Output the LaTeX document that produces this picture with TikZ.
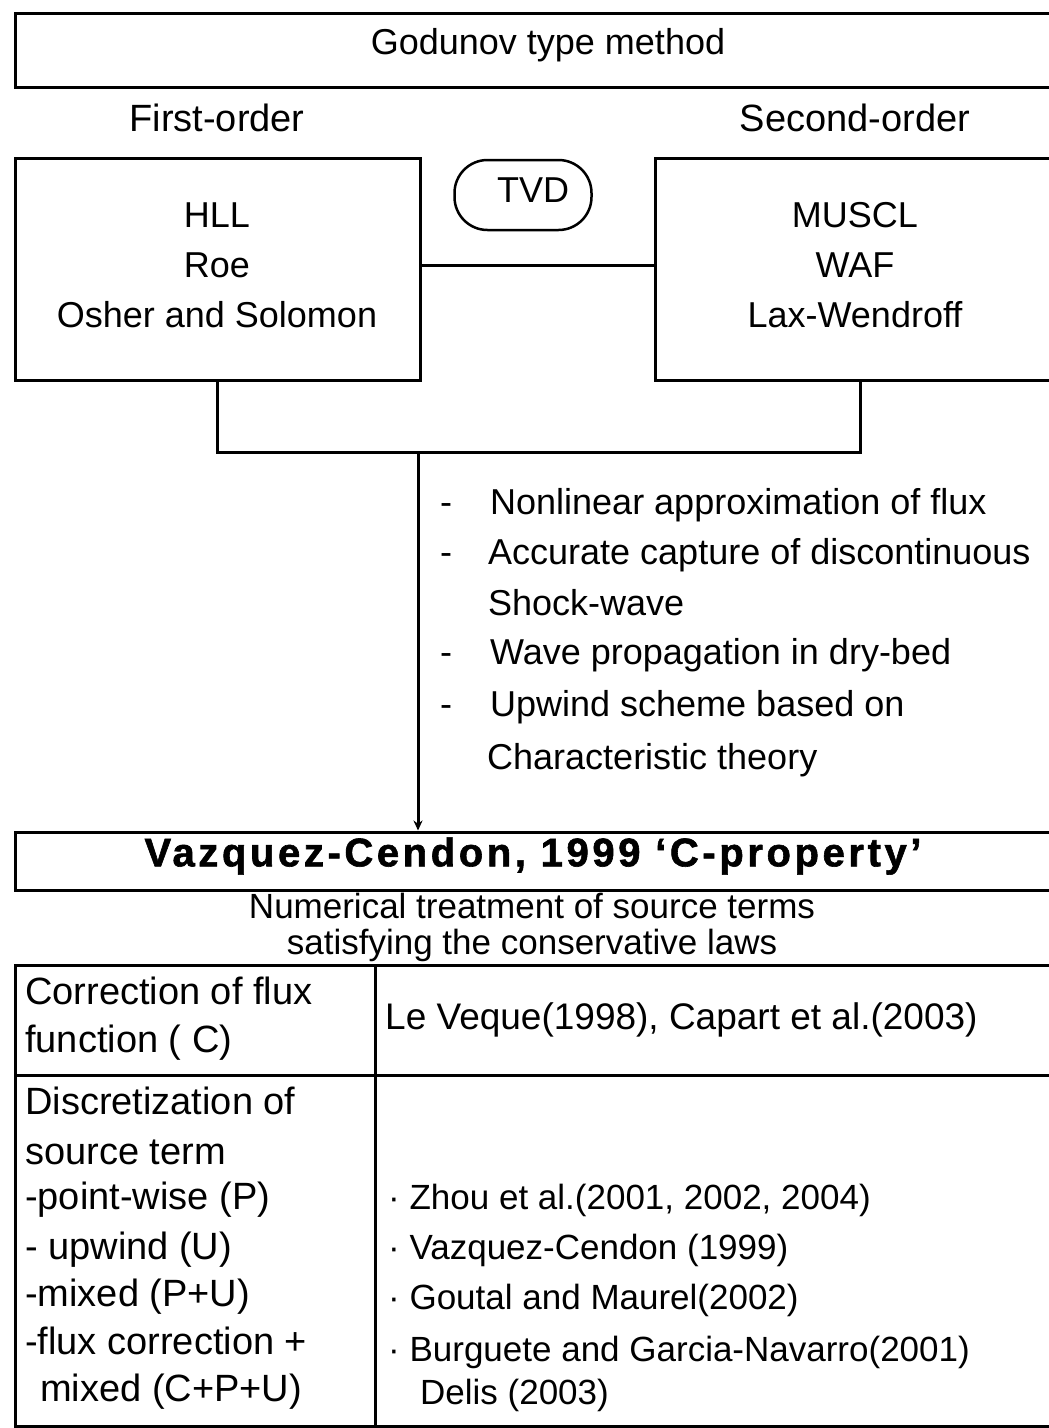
\documentclass[tikz,border=0pt]{standalone}
\usepackage{fontspec}
\setmainfont{Liberation Sans}
\usetikzlibrary{arrows.meta}
\begin{document}
\begin{tikzpicture}[x=1pt,y=-1pt,
  box/.style={draw, line width=3pt, inner sep=0pt},
  conn/.style={draw, line width=3pt},
  txt/.style={font=\fontsize{36}{42}\selectfont, inner sep=0pt},
  head/.style={font=\fontsize{38}{42}\selectfont, inner sep=0pt},
  tbl/.style={font=\fontsize{38}{42}\selectfont, inner sep=0pt, anchor=west, text height=27pt, text depth=8pt},
  ref/.style={font=\fontsize{35}{40}\selectfont, inner sep=0pt, anchor=west, text height=25pt, text depth=7pt},
  bul/.style={font=\fontsize{36}{40}\selectfont, inner sep=0pt, anchor=west, text height=26pt, text depth=8pt}]
\clip (0,0) rectangle (1049,1428);
\fill[white] (0,0) rectangle (1049,1428);
% top box
\node[box, minimum width=1060pt, minimum height=74pt] (god) at (545,50) {};
\node[txt] (godt) at (548,45) {Godunov type method};
\node[head] (first) at (217,118) {First-order};
\node[head] (second) at (855,118) {Second-order};
% method boxes
\node[box, minimum width=405pt, minimum height=222pt] (lbox) at (217.5,269) {};
\node[txt, align=center] (ltxt) at (217,265) {HLL\\[8pt]Roe\\[8pt]Osher and Solomon};
\node[box, minimum width=410pt, minimum height=222pt] (rbox) at (860,269) {};
\node[txt, align=center] (rtxt) at (855,265) {MUSCL\\[8pt]WAF\\[8pt]Lax-Wendroff};
\node[draw, line width=2.5pt, rounded corners=33pt, minimum width=137pt, minimum height=70pt] (tvd) at (523,195) {};
\node[txt] (tvdt) at (533,190) {TVD};
\draw[conn] ([yshift=4pt]lbox.east) -- ([yshift=4pt]rbox.west);
% join lines
\coordinate (join) at (418,452);
\draw[conn] (lbox.south) -- (lbox.south |- join) -- (rbox.south |- join) -- (rbox.south);
% Vazquez box
\node[box, minimum width=1060pt, minimum height=58pt] (vaz) at (545,861) {};
\node[inner sep=0pt, font=\fontsize{40}{42}\selectfont\bfseries\addfontfeatures{LetterSpace=9,FakeBold=1.5}] (vazt) at (533,856) {Vazquez-Cendon, 1999 ‘C-property’};
\draw[conn, -{Stealth[length=10pt,width=9pt]}] (join) -- (join |- vaz.north);
% bullets
\node[bul] (d1) at (440,505) {-};
\node[bul] (b1) at (490,505) {Nonlinear approximation of flux};
\node[bul] (d2) at (440,555) {-};
\node[bul] (b2) at (488,555) {Accurate capture of discontinuous};
\node[bul] (b3) at (488,606) {Shock-wave};
\node[bul] (d4) at (440,655) {-};
\node[bul] (b4) at (490,655) {Wave propagation in dry-bed};
\node[bul] (d5) at (440,707) {-};
\node[bul] (b5) at (490,707) {Upwind scheme based on};
\node[bul] (b6) at (487,760) {Characteristic theory};
% numerical treatment
\node[inner sep=0pt, align=center, font=\fontsize{35}{36}\selectfont] (num) at (532,927) {Numerical treatment of source terms\\satisfying the conservative laws};
% table
\draw[line width=3pt] (15,965) rectangle (1065,1426);
\draw[line width=3pt] (375,965) -- (375,1426);
\draw[line width=3pt] (15,1075) -- (1065,1075);
\node[tbl] (c1) at (25,995) {Correction of flux};
\node[tbl] (c2) at (25,1043) {function ( C)};
\node[ref, font=\fontsize{37}{40}\selectfont] (r1) at (385,1020) {Le Veque(1998), Capart et al.(2003)};
\node[tbl] (s1) at (25,1105) {Discretization of};
\node[tbl] (s2) at (25,1155) {source term};
\node[tbl] (s3) at (25,1200) {-point-wise (P)};
\node[tbl] (s4) at (25,1250) {- upwind (U)};
\node[tbl] (s5) at (25,1297) {-mixed (P+U)};
\node[tbl] (s6) at (25,1345) {-flux correction +};
\node[tbl] (s7) at (40,1392) {mixed (C+P+U)};
\node[ref] (e1) at (388,1200) {· Zhou et al.(2001, 2002, 2004)};
\node[ref] (e2) at (388,1250) {· Vazquez-Cendon (1999)};
\node[ref] (e3) at (388,1300) {· Goutal and Maurel(2002)};
\node[ref] (e4) at (388,1352) {· Burguete and Garcia-Navarro(2001)};
\node[ref] (e5) at (420,1395) {Delis (2003)};
\end{tikzpicture}
\end{document}
